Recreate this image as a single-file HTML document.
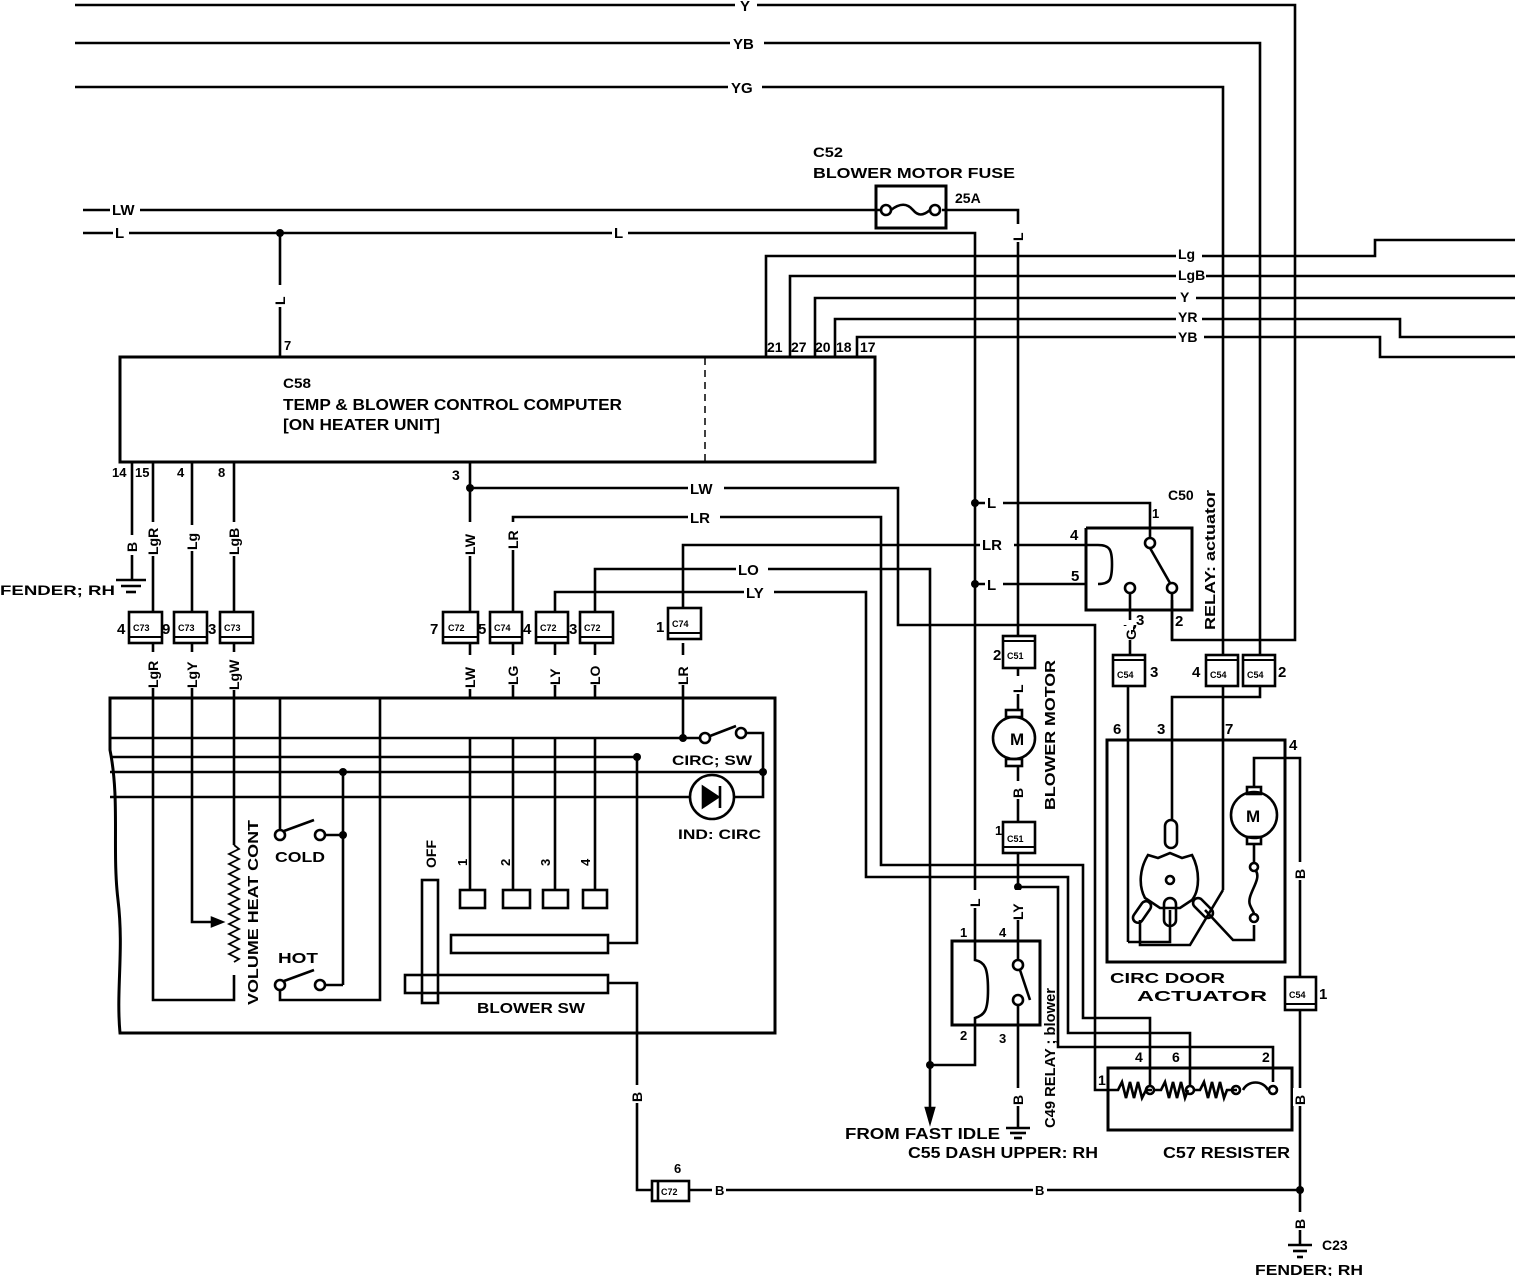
<!DOCTYPE html>
<html><head><meta charset="utf-8"><style>
html,body{margin:0;padding:0;background:#fff;}
svg{display:block;}
text{font-family:"Liberation Sans",sans-serif;font-weight:bold;fill:#000;}
</style></head><body>
<svg width="1520" height="1276" viewBox="0 0 1520 1276" xmlns="http://www.w3.org/2000/svg">
<g fill="none" stroke="#000" stroke-width="2.6">
<polyline points="75,5 1295,5 1295,640 1172,640 1172,600"/>
<polyline points="75,43 1260,43 1260,654"/>
<polyline points="75,87 1223,87 1223,654"/>
<line x1="83" y1="210" x2="880" y2="210"/>
<polyline points="942,210 1018,210 1018,232"/>
<line x1="1018" y1="240" x2="1018" y2="636"/>
<polyline points="83,233 975,233 975,940"/>
<line x1="280" y1="233" x2="280" y2="358"/>
<rect x="876" y="186" width="70" height="42" stroke-width="3"/>
<circle cx="886" cy="210" r="5"/><circle cx="935" cy="210" r="5"/>
<path d="M891,210 C900,203 907,203 913,210 C918,216 923,216 930,210"/>
<polyline points="766,358 766,256 1375,256 1375,240 1515,240"/>
<polyline points="790,358 790,276 1515,276"/>
<polyline points="815,358 815,298 1515,298"/>
<polyline points="835,358 835,319 1400,319 1400,337 1515,337"/>
<polyline points="857,358 857,337 1380,337 1380,357 1515,357"/>
<rect x="120" y="357" width="755" height="105" stroke-width="3"/>
<line x1="705" y1="358" x2="705" y2="462" stroke-dasharray="7,5" stroke-width="1.5"/>
<polyline points="132,462 132,580"/>
<line x1="116" y1="580" x2="146" y2="580"/><line x1="121" y1="586" x2="141" y2="586"/><line x1="126" y1="592" x2="136" y2="592"/>
<line x1="153" y1="462" x2="153" y2="612"/>
<line x1="192" y1="462" x2="192" y2="612"/>
<line x1="234" y1="462" x2="234" y2="612"/>
<line x1="470" y1="462" x2="470" y2="612"/>
<polyline points="470,488 898,488 898,625 1095,625 1095,1090 1112,1090"/>
<polyline points="513,612 513,517 881,517 881,865 1083,865 1083,1018 1150,1018 1150,1085"/>
<polyline points="683,612 683,545 1098,545"/>
<path d="M1098,545 C1110,545 1112,550 1112,564 C1112,580 1110,584 1098,584"/>
<polyline points="555,612 555,592 866,592 866,877 1068,877 1068,1033 1190,1033 1190,1085"/>
<polyline points="595,612 595,569 930,569 930,1110"/>
<line x1="153" y1="643" x2="153" y2="698"/>
<line x1="192" y1="643" x2="192" y2="698"/>
<line x1="234" y1="643" x2="234" y2="698"/>
<line x1="470" y1="643" x2="470" y2="698"/>
<line x1="513" y1="643" x2="513" y2="698"/>
<line x1="555" y1="643" x2="555" y2="698"/>
<line x1="595" y1="643" x2="595" y2="698"/>
<line x1="683" y1="643" x2="683" y2="738"/>
<path d="M110,698 L775,698 L775,1033 L120,1033 C116,990 124,950 118,900 C112,850 120,800 110,750 Z" stroke-width="3"/>
<line x1="110" y1="738" x2="683" y2="738"/>
<line x1="110" y1="757" x2="637" y2="757"/>
<line x1="110" y1="772" x2="763" y2="772"/>
<line x1="110" y1="797" x2="690" y2="797"/>
<polyline points="734,797 763,797 763,733 746,733"/>
<line x1="683" y1="738" x2="700" y2="738"/>
<line x1="710" y1="736" x2="736" y2="726"/>
<circle cx="705" cy="738" r="5"/><circle cx="741" cy="733" r="5"/>
<circle cx="712" cy="797" r="22"/>
<polygon points="703,787 703,807 718,797" fill="#000"/>
<line x1="720" y1="786" x2="720" y2="808"/>
<polyline points="153,698 153,1000 234,1000 234,975"/>
<polyline points="234,698 234,845"/>
<path d="M234,845 l5,4 -10,5 10,5 -10,5 10,5 -10,5 10,5 -10,5 10,5 -10,5 10,5 -10,5 10,5 -10,5 10,5 -10,5 10,5 -10,5 10,5 -10,5 10,5 -10,5 10,5 -5,3" stroke-width="1.8"/>
<polyline points="192,698 192,922 212,922"/>
<polygon points="212,918 222,922 212,926" fill="#000"/>
<polyline points="280,698 280,830"/>
<circle cx="280" cy="835" r="5"/><circle cx="320" cy="835" r="5"/>
<line x1="284" y1="831" x2="314" y2="820"/>
<polyline points="325,835 343,835"/>
<line x1="343" y1="772" x2="343" y2="985"/>
<circle cx="280" cy="985" r="5"/><circle cx="320" cy="985" r="5"/>
<line x1="284" y1="981" x2="314" y2="970"/>
<polyline points="325,985 343,985"/>
<polyline points="280,990 280,1000 380,1000 380,698"/>
<line x1="470" y1="738" x2="470" y2="890"/>
<line x1="513" y1="738" x2="513" y2="890"/>
<line x1="555" y1="738" x2="555" y2="890"/>
<line x1="595" y1="738" x2="595" y2="890"/>
<rect x="460" y="890" width="25" height="18"/>
<rect x="503" y="890" width="27" height="18"/>
<rect x="543" y="890" width="25" height="18"/>
<rect x="583" y="890" width="24" height="18"/>
<rect x="422" y="880" width="16" height="123"/>
<rect x="451" y="935" width="157" height="18"/>
<rect x="405" y="975" width="203" height="18"/>
<polyline points="608,943 637,943 637,757"/>
<polyline points="608,983 637,983 637,1190 652,1190"/>
<rect x="652" y="1181" width="37" height="20"/>
<line x1="658" y1="1181" x2="658" y2="1201"/>
<line x1="689" y1="1190" x2="1300" y2="1190"/>
<polyline points="975,503 1150,503 1150,538"/>
<line x1="975" y1="584" x2="1085" y2="584"/>
<polyline points="1086,528 1192,528 1192,610 1086,610 1086,528" stroke-width="3"/>
<circle cx="1150" cy="543" r="5"/><circle cx="1130" cy="588" r="5"/><circle cx="1172" cy="588" r="5"/>
<line x1="1150" y1="548" x2="1170" y2="583"/>
<polyline points="1130,593 1130,620"/>
<path d="M1125,625 a5,5 0 1 0 10,0 M1130,630 L1130,654"/>
<line x1="1172" y1="593" x2="1172" y2="640"/>
<line x1="1128" y1="686" x2="1128" y2="942"/>
<polyline points="1128,942 1170,942 1170,910"/>
<polyline points="1260,686 1260,697 1172,697 1172,820"/>
<line x1="1223" y1="686" x2="1223" y2="890"/>
<polyline points="1223,890 1190,945 1140,945 1140,920"/>
<rect x="1107" y="740" width="178" height="222" stroke-width="3"/>
<rect x="1165" y="820" width="12" height="28" rx="6"/>
<path d="M1148,855 L1158,858 L1170,853 L1182,858 L1192,855 C1200,870 1200,890 1192,900 L1180,908 L1160,908 L1145,898 C1138,885 1140,868 1148,855 Z"/>
<circle cx="1170" cy="880" r="4"/>
<rect x="1164" y="898" width="12" height="28" rx="6"/>
<rect x="1137" y="900" width="10" height="24" rx="5" transform="rotate(35 1142 912)"/>
<rect x="1198" y="896" width="10" height="24" rx="5" transform="rotate(-45 1203 908)"/>
<polyline points="1205,910 1233,940 1254,940 1254,925"/>
<circle cx="1254" cy="815" r="23"/>
<rect x="1247" y="787" width="14" height="7"/><rect x="1247" y="837" width="14" height="7"/>
<polyline points="1254,787 1254,758 1300,758 1300,977"/>
<line x1="1254" y1="844" x2="1254" y2="863"/>
<circle cx="1254" cy="867" r="4"/><circle cx="1254" cy="918" r="4"/>
<path d="M1256,871 C1262,880 1246,895 1250,905 C1252,910 1254,912 1254,914"/>
<line x1="1300" y1="1010" x2="1300" y2="1245"/>
<line x1="1288" y1="1245" x2="1312" y2="1245"/><line x1="1293" y1="1251" x2="1307" y2="1251"/><line x1="1297" y1="1257" x2="1303" y2="1257"/>
<circle cx="1014" cy="738" r="21"/>
<rect x="1006" y="710" width="16" height="7"/><rect x="1006" y="759" width="16" height="7"/>
<line x1="1018" y1="668" x2="1018" y2="710"/>
<line x1="1018" y1="766" x2="1018" y2="822"/>
<line x1="1018" y1="853" x2="1018" y2="960"/>
<polyline points="1018,887 1058,887 1058,1047 1273,1047 1273,1082"/>
<rect x="952" y="941" width="88" height="84" stroke-width="3"/>
<path d="M975,940 L975,960 C985,962 988,968 988,990 C988,1010 985,1015 975,1018 L975,1065 L930,1065"/>
<circle cx="1018" cy="965" r="5"/><circle cx="1018" cy="1000" r="5"/>
<line x1="1020" y1="970" x2="1030" y2="1000"/>
<line x1="1018" y1="1005" x2="1018" y2="1128"/>
<line x1="1006" y1="1128" x2="1030" y2="1128"/><line x1="1010" y1="1133" x2="1026" y2="1133"/><line x1="1014" y1="1138" x2="1022" y2="1138"/>
<polygon points="926,1108 930,1122 934,1108" fill="#000"/>
<rect x="1108" y="1068" width="184" height="62" stroke-width="3"/>
<path d="M1112,1090 L1118,1090 l4,-8 4,16 4,-16 4,16 4,-16 4,16 4,-8 6,0 M1155,1090 l6,0 l4,-8 4,16 4,-16 4,16 4,-16 4,16 3,-8 M1195,1090 l5,0 l4,-8 4,16 4,-16 4,16 4,-16 4,16 3,-8 l10,0 M1243,1090 c5,-10 20,-10 25,0"/>
<circle cx="1150" cy="1090" r="4"/><circle cx="1190" cy="1090" r="4"/><circle cx="1236" cy="1090" r="4"/><circle cx="1273" cy="1090" r="4"/>
</g>
<g fill="#fff" stroke="#000" stroke-width="2.6">
<rect x="129" y="612" width="33" height="31"/><rect x="174" y="612" width="33" height="31"/><rect x="220" y="612" width="33" height="31"/>
<rect x="443" y="612" width="35" height="31"/><rect x="490" y="612" width="32" height="31"/><rect x="536" y="612" width="32" height="31"/><rect x="580" y="612" width="33" height="31"/>
<rect x="668" y="608" width="33" height="31"/>
<rect x="1003" y="636" width="32" height="32"/><rect x="1003" y="822" width="32" height="31"/>
<rect x="1113" y="655" width="32" height="31"/><rect x="1206" y="655" width="32" height="31"/><rect x="1243" y="655" width="32" height="31"/>
<rect x="1285" y="977" width="31" height="33"/>
</g>
<g stroke="#000" stroke-width="2">
<line x1="129" y1="637" x2="162" y2="637"/><line x1="174" y1="637" x2="207" y2="637"/><line x1="220" y1="637" x2="253" y2="637"/>
<line x1="443" y1="637" x2="478" y2="637"/><line x1="490" y1="637" x2="522" y2="637"/><line x1="536" y1="637" x2="568" y2="637"/><line x1="580" y1="637" x2="613" y2="637"/>
<line x1="668" y1="633" x2="701" y2="633"/>
<line x1="1003" y1="641" x2="1035" y2="641"/><line x1="1003" y1="847" x2="1035" y2="847"/>
<line x1="1113" y1="660" x2="1145" y2="660"/><line x1="1206" y1="660" x2="1238" y2="660"/><line x1="1243" y1="660" x2="1275" y2="660"/>
<line x1="1285" y1="1004" x2="1316" y2="1004"/>
</g>
<g fill="#000">
<circle cx="280" cy="233" r="4"/><circle cx="470" cy="488" r="4"/><circle cx="975" cy="503" r="4"/><circle cx="975" cy="584" r="4"/>
<circle cx="683" cy="738" r="4"/><circle cx="637" cy="757" r="4"/><circle cx="343" cy="772" r="4"/><circle cx="763" cy="772" r="4"/><circle cx="343" cy="835" r="4"/>
<circle cx="1018" cy="887" r="4"/><circle cx="930" cy="1065" r="4"/><circle cx="1300" cy="1190" r="4"/>
</g>
<g fill="#fff">
<rect x="735" y="0" width="22" height="12"/><rect x="730" y="36" width="34" height="14"/><rect x="728" y="80" width="34" height="14"/>
<rect x="110" y="203" width="30" height="14"/><rect x="113" y="226" width="16" height="14"/><rect x="612" y="226" width="16" height="14"/>
<rect x="273" y="285" width="14" height="22"/>
<rect x="1176" y="248" width="26" height="14"/><rect x="1176" y="268" width="30" height="14"/><rect x="1176" y="290" width="20" height="14"/><rect x="1176" y="310" width="26" height="14"/><rect x="1176" y="330" width="28" height="14"/>
<rect x="1011" y="224" width="14" height="18"/>
<rect x="985" y="496" width="18" height="14"/><rect x="980" y="538" width="34" height="14"/><rect x="985" y="577" width="18" height="14"/>
<rect x="688" y="481" width="36" height="14"/><rect x="688" y="510" width="32" height="14"/><rect x="736" y="562" width="32" height="14"/><rect x="744" y="585" width="30" height="14"/>
<rect x="125" y="535" width="14" height="20"/><rect x="146" y="522" width="14" height="34"/><rect x="185" y="525" width="14" height="26"/><rect x="227" y="522" width="14" height="34"/>
<rect x="463" y="522" width="14" height="34"/><rect x="506" y="522" width="14" height="28"/>
<rect x="146" y="652" width="14" height="36"/><rect x="185" y="652" width="14" height="36"/><rect x="227" y="652" width="14" height="38"/>
<rect x="463" y="655" width="14" height="34"/><rect x="506" y="655" width="14" height="30"/><rect x="548" y="655" width="14" height="30"/><rect x="588" y="655" width="14" height="30"/><rect x="676" y="655" width="14" height="30"/>
<rect x="1011" y="676" width="14" height="18"/><rect x="1011" y="781" width="14" height="18"/>
<rect x="968" y="890" width="14" height="18"/><rect x="1011" y="890" width="14" height="30"/>
<rect x="1011" y="1088" width="14" height="18"/><rect x="630" y="1085" width="14" height="18"/>
<rect x="712" y="1183" width="14" height="14"/><rect x="1033" y="1183" width="14" height="14"/>
<rect x="1293" y="862" width="14" height="18"/><rect x="1293" y="1088" width="14" height="18"/><rect x="1293" y="1212" width="14" height="18"/>
<rect x="1121" y="626" width="12" height="14"/>
</g>
<g font-size="15">
<text x="740" y="11">Y</text><text x="733" y="49">YB</text><text x="731" y="93">YG</text>
<text x="112" y="215">LW</text><text x="115" y="238">L</text><text x="614" y="238">L</text>
<text x="1178" y="259" font-size="14">Lg</text><text x="1178" y="280" font-size="14">LgB</text><text x="1180" y="302" font-size="14">Y</text><text x="1178" y="322" font-size="14">YR</text><text x="1178" y="342" font-size="14">YB</text>
<text x="987" y="508">L</text><text x="982" y="550">LR</text><text x="987" y="590">L</text>
<text x="690" y="494">LW</text><text x="690" y="523">LR</text><text x="738" y="575">LO</text><text x="746" y="598">LY</text>
<text x="813" y="157" font-size="14" textLength="30" lengthAdjust="spacingAndGlyphs">C52</text>
<text x="813" y="178" font-size="15" textLength="202" lengthAdjust="spacingAndGlyphs">BLOWER MOTOR FUSE</text>
<text x="955" y="203" font-size="14">25A</text>
<text x="283" y="388" font-size="14" textLength="28" lengthAdjust="spacingAndGlyphs">C58</text>
<text x="283" y="410" font-size="16" textLength="339" lengthAdjust="spacingAndGlyphs">TEMP &amp; BLOWER CONTROL COMPUTER</text>
<text x="283" y="430" font-size="16" textLength="157" lengthAdjust="spacingAndGlyphs">[ON HEATER UNIT]</text>
<text x="284" y="350" font-size="13">7</text>
<text x="767" y="352" font-size="14">21</text><text x="791" y="352" font-size="14">27</text><text x="815" y="352" font-size="14">20</text><text x="836" y="352" font-size="14">18</text><text x="860" y="352" font-size="14">17</text>
<text x="112" y="477" font-size="13">14</text><text x="135" y="477" font-size="13">15</text><text x="177" y="477" font-size="13">4</text><text x="218" y="477" font-size="13">8</text><text x="452" y="480" font-size="14">3</text>
<text x="0" y="595" font-size="14" textLength="115" lengthAdjust="spacingAndGlyphs">FENDER; RH</text>
<text x="117" y="634" font-size="15">4</text><text x="162" y="634" font-size="15">9</text><text x="208" y="634" font-size="15">3</text>
<text x="430" y="634" font-size="15">7</text><text x="478" y="634" font-size="15">5</text><text x="523" y="634" font-size="15">4</text><text x="569" y="634" font-size="15">3</text><text x="656" y="632" font-size="15">1</text>
<text x="993" y="660" font-size="15">2</text><text x="995" y="835" font-size="13">1</text>
<text x="1070" y="540" font-size="15">4</text><text x="1071" y="581" font-size="15">5</text><text x="1152" y="518" font-size="13">1</text><text x="1168" y="500" font-size="14">C50</text>
<text x="1136" y="625" font-size="15">3</text><text x="1175" y="626" font-size="15">2</text>
<text x="1150" y="677" font-size="15">3</text><text x="1192" y="677" font-size="15">4</text><text x="1278" y="677" font-size="15">2</text>
<text x="1113" y="734" font-size="15">6</text><text x="1157" y="734" font-size="15">3</text><text x="1225" y="734" font-size="15">7</text><text x="1289" y="750" font-size="15">4</text>
<text x="1319" y="999" font-size="15">1</text>
<text x="672" y="765" font-size="14" textLength="80" lengthAdjust="spacingAndGlyphs">CIRC; SW</text>
<text x="678" y="839" font-size="14" textLength="83" lengthAdjust="spacingAndGlyphs">IND: CIRC</text>
<text x="275" y="862" font-size="15" textLength="50" lengthAdjust="spacingAndGlyphs">COLD</text>
<text x="278" y="963" font-size="15" textLength="40" lengthAdjust="spacingAndGlyphs">HOT</text>
<text x="477" y="1013" font-size="15" textLength="108" lengthAdjust="spacingAndGlyphs">BLOWER SW</text>
<text x="960" y="937" font-size="13">1</text><text x="999" y="937" font-size="13">4</text><text x="960" y="1040" font-size="13">2</text><text x="999" y="1043" font-size="13">3</text>
<text x="845" y="1139" font-size="16" textLength="155" lengthAdjust="spacingAndGlyphs">FROM FAST IDLE</text>
<text x="908" y="1158" font-size="16" textLength="190" lengthAdjust="spacingAndGlyphs">C55 DASH UPPER: RH</text>
<text x="1110" y="983" font-size="15" textLength="115" lengthAdjust="spacingAndGlyphs">CIRC DOOR</text>
<text x="1137" y="1001" font-size="15" textLength="130" lengthAdjust="spacingAndGlyphs">ACTUATOR</text>
<text x="1163" y="1158" font-size="16" textLength="127" lengthAdjust="spacingAndGlyphs">C57 RESISTER</text>
<text x="1135" y="1062" font-size="14">4</text><text x="1172" y="1062" font-size="14">6</text><text x="1262" y="1062" font-size="14">2</text><text x="1098" y="1085" font-size="14">1</text>
<text x="674" y="1173" font-size="13">6</text>
<text x="715" y="1195" font-size="13">B</text><text x="1035" y="1195" font-size="13">B</text>
<text x="1322" y="1250" font-size="14">C23</text>
<text x="1255" y="1275" font-size="15" textLength="108" lengthAdjust="spacingAndGlyphs">FENDER; RH</text>
</g>
<g font-size="9" font-weight="normal">
<text x="133" y="631">C73</text><text x="178" y="631">C73</text><text x="224" y="631">C73</text>
<text x="448" y="631">C72</text><text x="494" y="631">C74</text><text x="540" y="631">C72</text><text x="584" y="631">C72</text><text x="672" y="627">C74</text>
<text x="1007" y="659">C51</text><text x="1007" y="842">C51</text>
<text x="1117" y="678">C54</text><text x="1210" y="678">C54</text><text x="1247" y="678">C54</text><text x="1289" y="998">C54</text>
<text x="661" y="1195">C72</text>
</g>
<g font-size="14">
<text transform="translate(285,305) rotate(-90)">L</text>
<text transform="translate(1023,241) rotate(-90)">L</text>
<text transform="translate(137,552) rotate(-90)">B</text>
<text transform="translate(158,555) rotate(-90)">LgR</text>
<text transform="translate(197,550) rotate(-90)">Lg</text>
<text transform="translate(239,555) rotate(-90)">LgB</text>
<text transform="translate(475,555) rotate(-90)">LW</text>
<text transform="translate(518,549) rotate(-90)">LR</text>
<text transform="translate(158,688) rotate(-90)">LgR</text>
<text transform="translate(197,688) rotate(-90)">LgY</text>
<text transform="translate(239,690) rotate(-90)">LgW</text>
<text transform="translate(475,688) rotate(-90)">LW</text>
<text transform="translate(518,685) rotate(-90)">LG</text>
<text transform="translate(560,685) rotate(-90)">LY</text>
<text transform="translate(600,685) rotate(-90)">LO</text>
<text transform="translate(688,685) rotate(-90)">LR</text>
<text transform="translate(1023,693) rotate(-90)">L</text>
<text transform="translate(1023,798) rotate(-90)">B</text>
<text transform="translate(980,907) rotate(-90)">L</text>
<text transform="translate(1023,920) rotate(-90)">LY</text>
<text transform="translate(1023,1105) rotate(-90)">B</text>
<text transform="translate(642,1102) rotate(-90)">B</text>
<text transform="translate(1305,879) rotate(-90)">B</text>
<text transform="translate(1305,1105) rotate(-90)">B</text>
<text transform="translate(1305,1229) rotate(-90)">B</text>
<text transform="translate(1136,640) rotate(-90)">G</text>
<text transform="translate(1055,810) rotate(-90)" font-size="15" textLength="150" lengthAdjust="spacingAndGlyphs">BLOWER MOTOR</text>
<text transform="translate(1055,1128) rotate(-90)" font-size="15" textLength="140" lengthAdjust="spacingAndGlyphs">C49 RELAY ; blower</text>
<text transform="translate(1215,630) rotate(-90)" font-size="15" textLength="140" lengthAdjust="spacingAndGlyphs">RELAY: actuator</text>
<text transform="translate(258,1005) rotate(-90)" font-size="15" textLength="185" lengthAdjust="spacingAndGlyphs">VOLUME HEAT CONT</text>
<text transform="translate(436,868) rotate(-90)">OFF</text>
<text transform="translate(467,866) rotate(-90)" font-size="13">1</text>
<text transform="translate(510,866) rotate(-90)" font-size="13">2</text>
<text transform="translate(550,866) rotate(-90)" font-size="13">3</text>
<text transform="translate(590,866) rotate(-90)" font-size="13">4</text>
</g>
<text x="1010" y="745" font-size="17">M</text>
<text x="1246" y="822" font-size="17">M</text>
</svg>
</body></html>
